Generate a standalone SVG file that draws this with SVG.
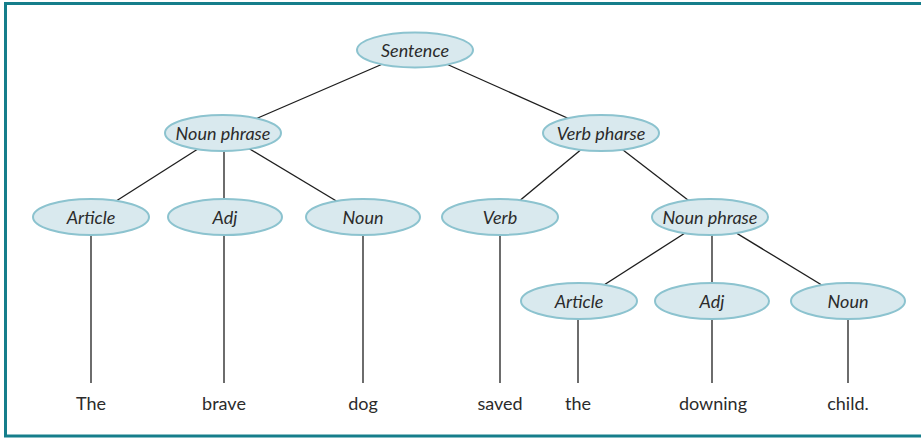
<svg xmlns="http://www.w3.org/2000/svg" width="921" height="438" viewBox="0 0 921 438">
  <style>
    .node ellipse { fill: #d9e9ee; stroke: #8cc3cf; stroke-width: 2; }
    .node text { font-family: Lato, "Open Sans", sans-serif; font-style: italic; font-size: 18px; fill: #2b2b2b; text-anchor: middle; dominant-baseline: central; }
    .edges line { stroke: #1e1e1e; stroke-width: 1.3; }
    .word { font-family: Lato, "Open Sans", sans-serif; font-size: 18px; fill: #2b2b2b; text-anchor: middle; }
  </style>
  <rect width="921" height="438" fill="#ffffff"/>
  <!-- frame -->
  <rect x="5.5" y="3.5" width="930" height="432.5" fill="none" stroke="#157e8b" stroke-width="3"/>

  <g class="edges">
    <line x1="415" y1="50" x2="223" y2="133"/>
    <line x1="415" y1="50" x2="601" y2="133"/>
    <line x1="223" y1="133" x2="91" y2="217"/>
    <line x1="224" y1="133" x2="224" y2="217"/>
    <line x1="223" y1="133" x2="363" y2="217"/>
    <line x1="601" y1="133" x2="500" y2="217"/>
    <line x1="601" y1="133" x2="710" y2="217"/>
    <line x1="710" y1="217" x2="579" y2="301"/>
    <line x1="712" y1="217" x2="712" y2="301"/>
    <line x1="710" y1="217" x2="848" y2="301"/>
    <line x1="91" y1="217" x2="91" y2="383"/>
    <line x1="224" y1="217" x2="224" y2="383"/>
    <line x1="363" y1="217" x2="363" y2="383"/>
    <line x1="500" y1="217" x2="500" y2="383"/>
    <line x1="578" y1="301" x2="578" y2="383"/>
    <line x1="712" y1="301" x2="712" y2="383"/>
    <line x1="848" y1="301" x2="848" y2="383"/>
  </g>

  <g id="sentence" class="node"><ellipse cx="415" cy="50" rx="58" ry="17.5"/><text x="415" y="50">Sentence</text></g>
  <g id="noun-phrase-1" class="node"><ellipse cx="223" cy="133" rx="58" ry="18"/><text x="223" y="133">Noun phrase</text></g>
  <g id="verb-phrase" class="node"><ellipse cx="601" cy="133" rx="58" ry="18"/><text x="601" y="133">Verb pharse</text></g>
  <g id="article-1" class="node"><ellipse cx="91" cy="217" rx="58" ry="18"/><text x="91" y="217">Article</text></g>
  <g id="adj-1" class="node"><ellipse cx="225" cy="217" rx="57" ry="18"/><text x="225" y="217">Adj</text></g>
  <g id="noun-1" class="node"><ellipse cx="363" cy="217" rx="57" ry="18"/><text x="363" y="217">Noun</text></g>
  <g id="verb" class="node"><ellipse cx="500" cy="217" rx="58" ry="18"/><text x="500" y="217">Verb</text></g>
  <g id="noun-phrase-2" class="node"><ellipse cx="710" cy="217" rx="58" ry="18"/><text x="710" y="217">Noun phrase</text></g>
  <g id="article-2" class="node"><ellipse cx="579" cy="301" rx="58" ry="18"/><text x="579" y="301">Article</text></g>
  <g id="adj-2" class="node"><ellipse cx="712" cy="301" rx="57" ry="18"/><text x="712" y="301">Adj</text></g>
  <g id="noun-2" class="node"><ellipse cx="848" cy="301" rx="57" ry="18"/><text x="848" y="301">Noun</text></g>

  <g id="words">
    <text class="word" x="91" y="410">The</text>
    <text class="word" x="224" y="410">brave</text>
    <text class="word" x="363" y="410">dog</text>
    <text class="word" x="500" y="410">saved</text>
    <text class="word" x="578" y="410">the</text>
    <text class="word" x="713" y="410">downing</text>
    <text class="word" x="848" y="410">child.</text>
  </g>
</svg>
